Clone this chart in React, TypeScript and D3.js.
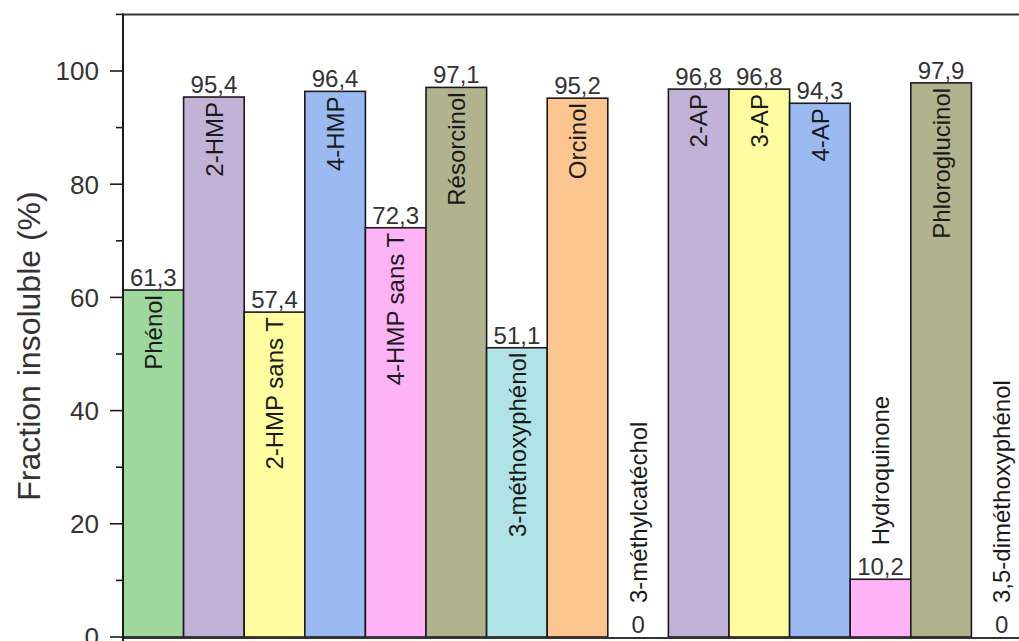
import React from "react";
import * as d3 from "d3";

const categories = [
  "Phénol", "2-HMP", "2-HMP sans T", "4-HMP", "4-HMP sans T", "Résorcinol",
  "3-méthoxyphénol", "Orcinol", "3-méthylcatéchol", "2-AP", "3-AP", "4-AP",
  "Hydroquinone", "Phloroglucinol", "3,5-diméthoxyphénol",
];
const values = [61.3, 95.4, 57.4, 96.4, 72.3, 97.1, 51.1, 95.2, 0, 96.8, 96.8, 94.3, 10.2, 97.9, 0];
const barColors = [
  "#9fd89d", "#c3b2d8", "#fffd9f", "#9bbaf2", "#fdb3f6", "#b1b38e",
  "#b0e3e6", "#fcc690", "#ffffff", "#c3b2d8", "#fffd9f", "#9bbaf2",
  "#fdb3f6", "#b1b38e", "#ffffff",
];
const majorTicks = [0, 20, 40, 60, 80, 100];
const minorTicks = [10, 30, 50, 70, 90, 110];
const yTitle = "Fraction insoluble (%)";

const W = 1019;
const H = 641;
const left = 123;
const bandW = 60.6;
const y0 = 637;
const yTop = 14.4;

export default function App() {
  const x = d3.scaleBand<string>().domain(categories).range([left, left + bandW * categories.length]).padding(0);
  const y = d3.scaleLinear().domain([0, 110]).range([y0, yTop]);
  const fmt = (v: number) => (v === 0 ? "0" : d3.format(".1f")(v).replace(".", ","));
  const font = "'Liberation Sans', Arial, sans-serif";

  return (
    <svg width={W} height={H} style={{ position: "absolute", left: 0, top: 0, background: "#fff" }} fontFamily={font}>
      {/* bars */}
      {categories.map((c, i) => {
        const v = values[i];
        const bx = x(c)!;
        const top = y(v);
        return (
          <rect key={"b" + i} x={bx} y={top} width={x.bandwidth()} height={y0 - top}
            fill={barColors[i]} stroke="#1a1a1a" strokeWidth={1.6} />
        );
      })}
      {/* value labels */}
      {categories.map((c, i) => {
        const v = values[i];
        const cx = x(c)! + x.bandwidth() / 2;
        return (
          <text key={"v" + i} x={cx} y={y(v) - 4} textAnchor="middle" fontSize={24} fill="#333">
            {fmt(values[i])}
          </text>
        );
      })}
      {/* name labels */}
      {categories.map((c, i) => {
        const v = values[i];
        const cx = x(c)! + x.bandwidth() / 2;
        const top = y(v);
        const inside = y0 - top > 200;
        const ty = inside ? top + 5 : top - 34;
        return (
          <text key={"n" + i} transform={`translate(${cx},${ty}) rotate(-90)`}
            textAnchor={inside ? "end" : "start"} dy="0.36em" fontSize={24} fill="#1a1a1a">
            {c}
          </text>
        );
      })}
      {/* frame */}
      <line x1={left} x2={W} y1={yTop} y2={yTop} stroke="#333" strokeWidth={2} />
      <line x1={left} x2={W} y1={y0 + 1} y2={y0 + 1} stroke="#333" strokeWidth={2} />
      <line x1={left} x2={left} y1={yTop - 1} y2={H} stroke="#1a1a1a" strokeWidth={2} />
      {/* y ticks */}
      {majorTicks.map((t) => (
        <g key={"t" + t}>
          <line x1={110} x2={left} y1={y(t)} y2={y(t)} stroke="#1a1a1a" strokeWidth={1.6} />
          <text x={99} y={y(t)} dy="0.36em" textAnchor="end" fontSize={26} fill="#333">{t}</text>
        </g>
      ))}
      {minorTicks.map((t) => (
        <line key={"m" + t} x1={116} x2={left} y1={y(t)} y2={y(t)} stroke="#1a1a1a" strokeWidth={1.6} />
      ))}
      <text transform={`translate(40,346) rotate(-90)`} textAnchor="middle" fontSize={32} fill="#333">
        {yTitle}
      </text>
    </svg>
  );
}
